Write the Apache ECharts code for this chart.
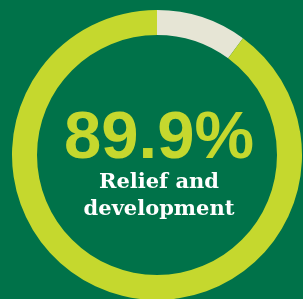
<!DOCTYPE html>
<html>
<head>
<meta charset="utf-8">
<script src="https://cdn.jsdelivr.net/npm/echarts@6/dist/echarts.min.js"></script>
<style>
  html, body { margin: 0; padding: 0; background: #007249; }
  #chart { width: 303px; height: 299px; }
</style>
</head>
<body>
<div id="chart"></div>
<script>
// share of spending, beige slice first so it starts at 12 o'clock
var categories = ['Other', 'Relief and development'];
var values = [10.1, 89.9];
var colors = ['#e6e5d5', '#c5d82e'];
var headline = '89.9%';
var caption = 'Relief and\ndevelopment';

var chart = echarts.init(document.getElementById('chart'));

var data = categories.map(function (name, i) {
  return { name: name, value: values[i], itemStyle: { color: colors[i] } };
});

chart.setOption({
  backgroundColor: '#007249',
  title: [{
    text: headline,
    left: 154,
    textAlign: 'center',
    top: 103,
    textStyle: {
      color: '#c5d82e',
      fontFamily: 'Liberation Sans',
      fontWeight: 'bold',
      fontSize: 67,
      lineHeight: 64
    }
  }, {
    text: caption,
    left: 154,
    textAlign: 'center',
    top: 164,
    textStyle: {
      color: '#ffffff',
      fontFamily: 'DejaVu Serif',
      fontWeight: 'bold',
      fontSize: 21,
      lineHeight: 27
    }
  }],
  series: [{
    type: 'pie',
    center: [157, 155],
    radius: [120, 145],
    startAngle: 90,
    clockwise: true,
    silent: true,
    label: { show: false },
    labelLine: { show: false },
    itemStyle: { borderWidth: 0 },
    data: data
  }]
});
</script>
</body>
</html>
